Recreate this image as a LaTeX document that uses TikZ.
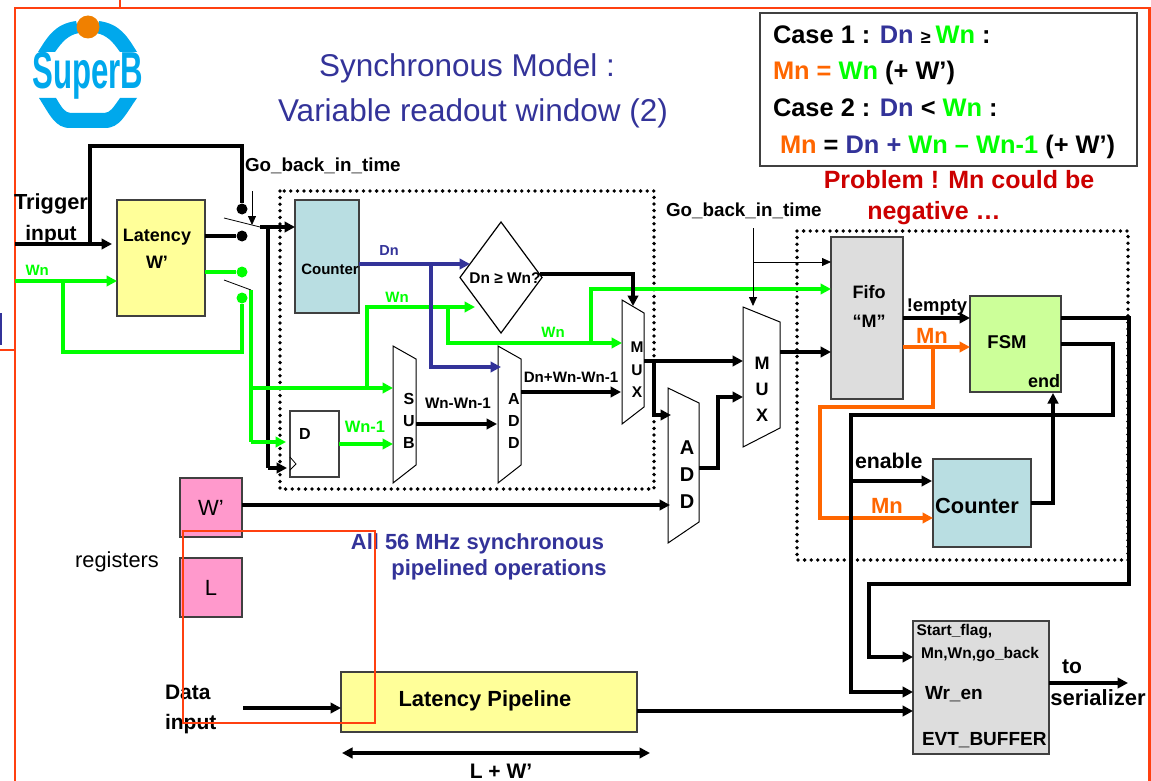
\documentclass[tikz,border=0pt]{standalone}
\usepackage{fontspec}
\setmainfont{Liberation Sans}
\usetikzlibrary{arrows.meta,shapes.geometric}

\definecolor{dnblue}{HTML}{333399}
\definecolor{wngreen}{HTML}{00FF00}
\definecolor{mnorange}{HTML}{FF6600}
\definecolor{framered}{HTML}{FF4010}
\definecolor{logocyan}{HTML}{00A8EC}
\definecolor{logoorange}{HTML}{F08000}
\definecolor{latyellow}{HTML}{FFFF99}
\definecolor{cntblue}{HTML}{B9DEE2}
\definecolor{fifogray}{HTML}{DDDDDD}
\definecolor{fsmgreen}{HTML}{CCFF99}
\definecolor{regpink}{HTML}{FF99CC}
\definecolor{edgegray}{HTML}{404040}

\newcommand{\bfs}[1]{\fontsize{#1}{#1}\selectfont\bfseries}
\newcommand{\rgs}[1]{\fontsize{#1}{#1}\selectfont}
\newcommand{\muxbody}[3]{\draw[line width=1pt, black] (#1.north west) -- ([yshift=-#2pt]#1.north east) -- ([yshift=#3pt]#1.south east) -- (#1.south west) -- cycle;}

\begin{document}
\begin{tikzpicture}
        [x=1pt, y=-1pt,
        box/.style={rectangle, draw=edgegray, line width=1.8pt, inner sep=0pt, outer sep=0pt},
        muxbox/.style={rectangle, inner sep=0pt, outer sep=0pt},
        txt/.style={inner sep=0pt, outer sep=0pt, font=\bfs{#1}},
        ltxt/.style={inner sep=0pt, outer sep=0pt, anchor=west, font=\bfs{#1}},
        dotb/.style={circle, fill=black, inner sep=0pt, minimum size=11pt},
        dotg/.style={circle, fill=wngreen, inner sep=0pt, minimum size=11pt},
        wire/.style={line width=3.2pt, black},
        hair/.style={line width=0.8pt, black},
        tip/.style={-{Triangle[length=10.5pt,width=10.5pt]}},
        smalltip/.style={-{Triangle[length=9pt,width=8pt]}},
        window/.style={line width=3.8pt, dash pattern=on 0pt off 6.6pt, line cap=round, black},
        frame/.style={line width=2.4pt, framered}]

        \useasboundingbox (0,0) rectangle (1151,781);

        % slide frame
        \draw[frame] (15,781) -- (15,8) -- (1149.5,8) -- (1149.5,781);
        \draw[frame, line width=1.5pt] (120,0) -- (120,8);
        \draw[frame, line width=1.5pt] (0,350) -- (15,350);
        \draw[dnblue, line width=2pt] (1,313) -- (1,345);

        % logo
        \fill[logocyan] (38,52) .. controls (48,36) and (55,24) .. (76,21) -- (79,33) .. controls (68,35) and (62,42) .. (55,52) -- cycle;
        \fill[logocyan] (137,52) .. controls (127,36) and (120,24) .. (99,21) -- (96,33) .. controls (107,35) and (113,42) .. (120,52) -- cycle;
        \fill[logocyan] (39,98) .. controls (50,115) and (55,128) .. (70,128) -- (105,128) .. controls (120,128) and (125,115) .. (137,98) -- (120,98) .. controls (113,108) and (110,113) .. (104,113) -- (71,113) .. controls (65,113) and (62,108) .. (56,98) -- cycle;
        \node[circle, fill=logoorange, inner sep=0pt, minimum size=23pt] (logoDot) at (88,27) {};
        \node[txt=52, text=logocyan] (logoTxt) at (88,76) {\scalebox{0.6}[1]{SuperB}};

        % title
        \node[font=\rgs{31.5}, text=dnblue, inner sep=0pt] (title1) at (467,68) {Synchronous Model :};
        \node[font=\rgs{31.5}, text=dnblue, inner sep=0pt] (title2) at (473,113) {Variable readout window (2)};

        % case box
        \node[box, fill=white, minimum width=377pt, minimum height=153pt] (caseBox) at (948.5,89.5) {};
        \node[ltxt=25.4] (case1) at (773,35) {Case 1 : \textcolor{dnblue}{Dn} \fontsize{18}{18}\selectfont ≥ \fontsize{25.4}{25.4}\selectfont\textcolor{wngreen}{Wn} :};
        \node[ltxt=25.4] (case1b) at (773,73) {\textcolor{mnorange}{Mn = }\textcolor{wngreen}{Wn} (+ W’)};
        \node[ltxt=25.4] (case2) at (773,108) {Case 2 : \textcolor{dnblue}{Dn} < \textcolor{wngreen}{Wn} :};
        \node[ltxt=25.4] (case2b) at (780,147) {\textcolor{mnorange}{Mn} = \textcolor{dnblue}{Dn + }\textcolor{wngreen}{Wn – Wn-1} (+ W’)};
        \node[txt=25, text=red!80!black] (problem1) at (959,180) {Problem ! Mn could be};
        \node[txt=25, text=red!80!black] (problem2) at (934,213) {negative …};

        % dotted windows
        \draw[window] (280,191) rectangle (654,489);
        \draw[window] (797,231) rectangle (1128,560);

        % blocks
        \node[box, fill=latyellow, minimum width=88pt, minimum height=116pt] (latency) at (161,258) {};
        \node[txt=18, align=center] (latencyTxt) at (157,249) {Latency\\[9pt]W’};
        \node[box, fill=cntblue, minimum width=64pt, minimum height=113pt] (cntA) at (327,256.5) {};
        \node[diamond, draw=black, line width=1.2pt, inner sep=0pt, outer sep=0pt, minimum width=82pt, minimum height=111pt] (cmp) at (501,277.5) {};
        \node[txt=15.5] (cmpTxt) at (505,278) {Dn ≥ Wn?};
        \node[box, fill=white, line width=1.2pt, minimum width=49pt, minimum height=66pt] (dff) at (314.5,444) {};
        \node[txt=16] (dffTxt) at (305,434) {D};
        \draw[hair] (290,457) -- (296,464) -- (290,470);
        \node[muxbox, minimum width=23pt, minimum height=137pt] (sub) at (404.5,414.5) {};
        \node[muxbox, minimum width=23pt, minimum height=137pt] (addA) at (509.5,414.5) {};
        \node[muxbox, minimum width=22pt, minimum height=124pt] (muxA) at (633,362) {};
        \node[muxbox, minimum width=31pt, minimum height=155pt] (addB) at (683.5,465.5) {};
        \node[muxbox, minimum width=37pt, minimum height=140pt] (muxB) at (761.5,377) {};
        \muxbody{sub}{13}{18}
        \muxbody{addA}{13}{18}
        \muxbody{muxA}{13}{17}
        \muxbody{addB}{15}{21}
        \muxbody{muxB}{15}{19}
        \node[txt=16, align=center] (subTxt) at (409,421) {S\\[6pt]U\\[6pt]B};
        \node[txt=16, align=center] (addATxt) at (514,421) {A\\[6pt]D\\[6pt]D};
        \node[txt=15.5, align=center] (muxATxt) at (637,370) {M\\[7pt]U\\[7pt]X};
        \node[txt=20, align=center] (addBTxt) at (687,474.5) {A\\[7pt]D\\[7pt]D};
        \node[txt=18, align=center] (muxBTxt) at (762,389) {M\\[8pt]U\\[8pt]X};
        \node[box, fill=fifogray, minimum width=72pt, minimum height=162pt] (fifo) at (867,318) {};
        \node[txt=18, align=center] (fifoTxt) at (869,306) {Fifo\\[11pt]“M”};
        \node[box, fill=fsmgreen, minimum width=91pt, minimum height=96pt] (fsm) at (1015.5,344) {};
        \node[txt=18.5] (fsmTxt) at (1007,342) {FSM};
        \node[txt=18] (fsmEnd) at (1044,381) {end};
        \node[box, fill=cntblue, minimum width=98pt, minimum height=88pt] (cntB) at (982,503) {};
        \node[box, fill=regpink, minimum width=62pt, minimum height=59pt, font=\rgs{22}] (regW) at (211,507.5) {W’};
        \node[box, fill=regpink, minimum width=62pt, minimum height=59pt, font=\rgs{22}] (regL) at (211,587.5) {L};
        \node[font=\rgs{21.8}, inner sep=0pt] (regTxt) at (117,562) {registers};
        \node[box, fill=latyellow, minimum width=296pt, minimum height=60pt] (pipe) at (489,702) {};
        \node[txt=21.9] (pipeTxt) at (485,701) {Latency Pipeline};
        \node[box, fill=fifogray, minimum width=136pt, minimum height=133pt] (evt) at (981,687.5) {};
        \node[ltxt=15.5] (evtA) at (916.5,632) {Start\_flag,};
        \node[ltxt=15.5] (evtB) at (921,655) {Mn,Wn,go\_back};
        \node[ltxt=19] (evtC) at (925,694) {Wr\_en};
        \node[ltxt=19] (evtD) at (922,740) {EVT\_BUFFER};

        % switch contacts
        \node[dotb] (dotGo) at (242,209) {};
        \node[dotb] (dotLat) at (242,236) {};
        \node[dotg] (dotWn) at (242,272) {};
        \node[dotg] (dotWb) at (242,298) {};

        % junctions and free ends
        \coordinate (trigIn) at (15,244);
        \coordinate (trigEnd) at (112,244);
        \coordinate (trigUp) at (90,244);
        \coordinate (goTop) at (242,146);
        \coordinate (wnIn) at (15,281);
        \coordinate (wnTap) at (63,281);
        \coordinate (wnLow) at (242,352);
        \coordinate (bladeA) at (224,218);
        \coordinate (swA) at (260,227);
        \coordinate (bladeB) at (224,280);
        \coordinate (swB) at (251,290);
        \coordinate (goS) at (252,191);
        \coordinate (goE) at (252,225);
        \coordinate (clkV) at (268,227);
        \coordinate (clkEnd) at (287,468);
        \coordinate (wnDff) at (286,442);
        \coordinate (wnSub) at (251,388);
        \coordinate (wnUp) at (367,388);
        \coordinate (wnCmp) at (475,307);
        \coordinate (wnTee) at (448,307);
        \coordinate (wnMux) at (622,343);
        \coordinate (wnFifo) at (591,289);
        \coordinate (dnCmp) at (470,264);
        \coordinate (dnTee) at (431,264);
        \coordinate (dnAdd) at (501,367);
        \coordinate (sel) at (633,274);
        \coordinate (selEnd) at (633,306);
        \coordinate (subOut) at (497,424);
        \coordinate (addOut) at (621,392);
        \coordinate (muxOut) at (743,361);
        \coordinate (muxTee) at (654,361);
        \coordinate (addBIn) at (671,415);
        \coordinate (regOut) at (670,505);
        \coordinate (addBOut) at (718,468);
        \coordinate (muxBIn) at (743,397);
        \coordinate (goBS) at (753,228);
        \coordinate (goBE) at (753,306);
        \coordinate (goBT) at (753,262);
        \coordinate (muxBOut) at (831,352);
        \coordinate (emptyIn) at (970,318);
        \coordinate (mnFsm) at (970,347);
        \coordinate (mnTee) at (933,347);
        \coordinate (mnLow) at (820,407);
        \coordinate (mnCnt) at (933,518);
        \coordinate (fsmA) at (1129,318);
        \coordinate (fsmAL) at (869,584);
        \coordinate (evtAIn) at (913,657);
        \coordinate (fsmB) at (1113,344);
        \coordinate (fsmBL) at (851,415);
        \coordinate (evtBIn) at (913,692);
        \coordinate (enTee) at (851,481);
        \coordinate (enEnd) at (932,481);
        \coordinate (endUp) at (1053,503);
        \coordinate (endEnd) at (1053,393);
        \coordinate (dataIn) at (243,708);
        \coordinate (pipeOut) at (913,711);
        \coordinate (serOut) at (1128,683);
        \coordinate (spanL) at (342,753);
        \coordinate (spanR) at (650,753);

        % trigger and go back (black)
        \draw[wire, tip] (trigIn) -- (trigEnd);
        \draw[wire] (trigUp) -- (trigUp |- goTop) -- (goTop) -- (dotGo);
        \draw[wire] (latency.east |- dotLat) -- (dotLat);
        \draw[hair] (bladeA) -- (swA);
        \draw[hair, smalltip] (goS) -- (goE);
        \draw[wire, tip] (swA) -- (cntA.west |- swA);
        \draw[wire] (clkV) -- (clkV |- clkEnd);
        \draw[wire, tip] (clkV |- clkEnd) -- (clkEnd);

        % Wn (green)
        \draw[wire, tip, wngreen] (wnIn) -- (latency.west |- wnIn);
        \draw[wire, wngreen] (wnTap) -- (wnTap |- wnLow) -- (wnLow) -- (dotWb);
        \draw[wire, wngreen] (latency.east |- dotWn) -- (dotWn);
        \draw[hair] (bladeB) -- (swB);
        \draw[wire, wngreen] (swB) -- (swB |- wnDff);
        \draw[wire, tip, wngreen] (swB |- wnDff) -- (wnDff);
        \draw[wire, tip, wngreen] (wnSub) -- (sub.west |- wnSub);
        \draw[wire, tip, wngreen] (wnUp) -- (wnUp |- wnCmp) -- (wnCmp);
        \draw[wire, tip, wngreen] (wnTee) -- (wnTee |- wnMux) -- (wnMux);
        \draw[wire, tip, wngreen] (wnFifo |- wnMux) -- (wnFifo) -- (fifo.west |- wnFifo);
        \draw[wire, tip, wngreen] (dff.east) -- (sub.west |- dff.east);

        % Dn (blue)
        \draw[wire, tip, dnblue] (cntA.east |- dnCmp) -- (dnCmp);
        \draw[wire, tip, dnblue] (dnTee) -- (dnTee |- dnAdd) -- (dnAdd);

        % datapath (black)
        \draw[wire, tip] ([xshift=-2pt]cmp.east |- sel) -- (sel) -- (selEnd);
        \draw[wire, tip] (sub.east |- subOut) -- (subOut);
        \draw[wire, tip] (addA.east |- addOut) -- (addOut);
        \draw[wire, tip] (muxA.east |- muxOut) -- (muxOut);
        \draw[wire, tip] (muxTee) -- (muxTee |- addBIn) -- (addBIn);
        \draw[wire, tip] (regW.east |- regOut) -- (regOut);
        \draw[wire, tip] (addB.east |- addBOut) -- (addBOut) -- (addBOut |- muxBIn) -- (muxBIn);
        \draw[hair, smalltip] (goBS) -- (goBE);
        \draw[hair, smalltip] (goBT) -- (fifo.west |- goBT);
        \draw[wire, tip] (muxB.east |- muxBOut) -- (muxBOut);
        \draw[wire, tip] (fifo.east |- emptyIn) -- (emptyIn);
        \draw[wire, tip, mnorange] (fifo.east |- mnFsm) -- (mnFsm);
        \draw[wire, tip, mnorange] (mnTee) -- (mnTee |- mnLow) -- (mnLow) -- (mnLow |- mnCnt) -- (mnCnt);

        % FSM outputs and event buffer
        \draw[wire, tip] (fsm.east |- fsmA) -- (fsmA) -- (fsmA |- fsmAL) -- (fsmAL) -- (fsmAL |- evtAIn) -- (evtAIn);
        \draw[wire, tip] (fsm.east |- fsmB) -- (fsmB) -- (fsmB |- fsmBL) -- (fsmBL) -- (fsmBL |- evtBIn) -- (evtBIn);
        \draw[wire, tip] (enTee) -- (enEnd);
        \draw[wire, tip] (cntB.east |- endUp) -- (endUp) -- (endEnd);
        \draw[wire, tip] (dataIn) -- (pipe.west |- dataIn);
        \draw[wire, tip] (pipe.east |- pipeOut) -- (pipeOut);
        \draw[wire, tip] (evt.east |- serOut) -- (serOut);
        \draw[wire, {Triangle[length=10.5pt,width=10.5pt]}-{Triangle[length=10.5pt,width=10.5pt]}] (spanL) -- (spanR);

        % labels
        \node[txt=21.8] (trigTxt) at (51,204) {Trigger};
        \node[txt=21] (inputTxt) at (51,235) {input};
        \node[ltxt=15, text=wngreen] (wnTxtA) at (25.5,270) {Wn};
        \node[ltxt=18.8] (goTxtA) at (245,166) {Go\_back\_in\_time};
        \node[ltxt=18.8] (goTxtB) at (666,211) {Go\_back\_in\_time};
        \node[txt=15] (cntATxt) at (330,269) {Counter};
        \node[txt=14.5, text=dnblue] (dnTxt) at (389,251) {Dn};
        \node[txt=15, text=wngreen] (wnTxtB) at (397,297) {Wn};
        \node[txt=15, text=wngreen] (wnTxtC) at (553,332) {Wn};
        \node[txt=16.5, text=wngreen] (wnTxtD) at (365,427) {Wn-1};
        \node[txt=15.2] (subTxtB) at (458,403) {Wn-Wn-1};
        \node[txt=15.1] (addTxtB) at (571,377) {Dn+Wn-Wn-1};
        \node[txt=18.4] (emptyTxt) at (937,307) {!empty};
        \node[txt=22, text=mnorange] (mnTxtA) at (932,336) {Mn};
        \node[txt=22, text=mnorange] (mnTxtB) at (887,506) {Mn};
        \node[ltxt=21.3] (enTxt) at (855,461) {enable};
        \node[txt=21.8] (cntBTxt) at (977,506) {Counter};
        \node[txt=21.9, text=dnblue] (allTxtA) at (477.5,544) {All 56 MHz synchronous};
        \node[txt=22, text=dnblue] (allTxtB) at (499,570) {pipelined operations};
        \node[ltxt=21] (dataTxtA) at (165,692) {Data};
        \node[ltxt=21] (dataTxtB) at (165,724) {input};
        \node[txt=21] (spanTxt) at (501,771) {L + W’};
        \node[txt=21] (toTxt) at (1072,667) {to};
        \node[txt=22] (serTxt) at (1098,698) {serializer};

        % red selection box
        \draw[frame, line width=1.8pt] (183,531) rectangle (375,723);
\end{tikzpicture}
\end{document}
